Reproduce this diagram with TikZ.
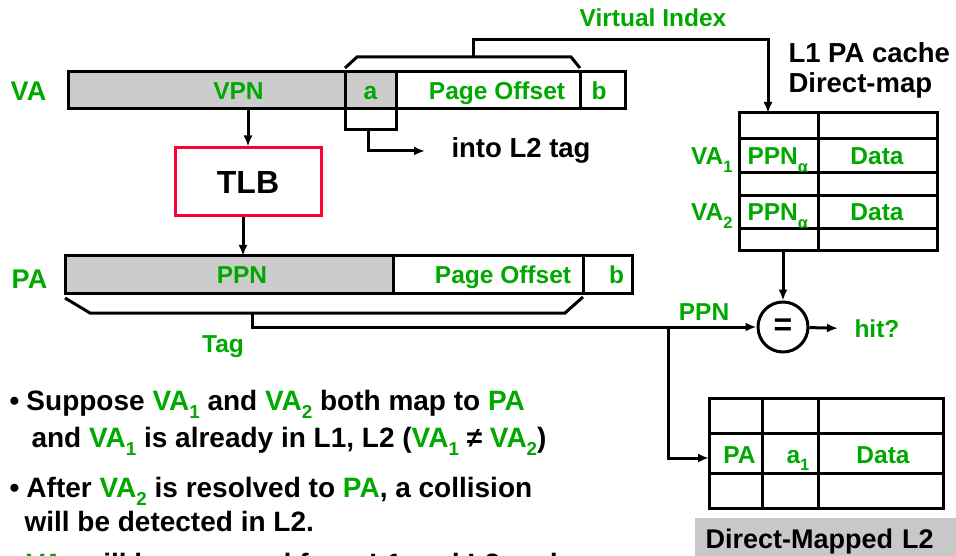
\documentclass[tikz,border=0pt]{standalone}
\usepackage{fontspec}
\setmainfont{Liberation Sans}
\usepackage{graphicx}
\usetikzlibrary{positioning,arrows.meta}

\definecolor{vgreen}{RGB}{0,168,0}
\definecolor{barfill}{RGB}{204,204,204}
\definecolor{tlbred}{RGB}{255,0,51}
\definecolor{capgray}{RGB}{200,200,200}
\newcommand{\lowidx}[1]{\raisebox{-0.3em}{\scalebox{0.67}{#1}}}
\newcommand{\grn}[1]{\textcolor{vgreen}{#1}}

\begin{document}
\begin{tikzpicture}[
    x=1pt, y=-1pt,
    >={Latex[length=11pt,width=9pt]},
    line width=3pt,
    field/.style={draw, outer sep=0pt, inner sep=0pt, minimum height=37pt},
    lbl/.style={text=vgreen, font=\fontsize{24.5}{29}\selectfont\bfseries, text height=17.5pt, text depth=0pt, inner sep=0pt},
    cell/.style={text=vgreen, font=\fontsize{24.5}{29}\selectfont\bfseries, inner sep=0pt, anchor=base},
    note/.style={font=\fontsize{27.5}{33}\selectfont\bfseries, inner sep=0pt, anchor=base west},
    point/.style={note, font=\fontsize{28}{33}\selectfont\bfseries},
    tbl/.style={draw, outer sep=0pt, inner sep=0pt, anchor=north west}
  ]
  \clip (0,0) rectangle (956,556);

  % virtual address
  \node[field, fill=barfill, minimum width=277pt, anchor=north west] (vpn) at (68,72) {};
  \node[field, fill=barfill, minimum width=51pt, right=0pt of vpn] (ava) {};
  \node[field, minimum width=184pt, right=0pt of ava] (pova) {};
  \node[field, minimum width=45pt, right=0pt of pova] (bva) {};
  \node[lbl] (vpntx) at ([xshift=32pt]vpn.center) {VPN};
  \node[lbl] (atx) at (ava.center) {a};
  \node[lbl] (povatx) at ([xshift=9pt]pova.center) {Page Offset};
  \node[lbl] (bvatx) at ([xshift=-3.5pt]bva.center) {b};
  \node[lbl, font=\fontsize{27}{32}\selectfont\bfseries, text height=19.3pt] (valbl) at (28.5,91) {VA};

  % physical address
  \node[field, fill=barfill, minimum width=328pt, anchor=north west] (ppn) at (65,256) {};
  \node[field, minimum width=190pt, right=0pt of ppn] (popa) {};
  \node[field, minimum width=49pt, right=0pt of popa] (bpa) {};
  \node[lbl] (ppntx) at ([xshift=13pt]ppn.center) {PPN};
  \node[lbl] (popatx) at ([xshift=15pt]popa.center) {Page Offset};
  \node[lbl] (bpatx) at ([xshift=9pt]bpa.center) {b};
  \node[lbl, font=\fontsize{27}{32}\selectfont\bfseries, text height=19.3pt] (palbl) at (29.5,279) {PA};

  \node[draw=tlbred, minimum width=146pt, minimum height=68pt, font=\fontsize{32}{38}\selectfont\bfseries] (tlb) at (248,182) {TLB};
  \draw[->] (vpn.south -| tlb.north) -- (tlb.north);
  \draw[->] ([xshift=-5pt]tlb.south) -- ([xshift=-5pt]tlb.south |- ppn.north);

  % L1 cache
  \node[tbl, minimum width=198pt, minimum height=138pt] (l1) at (739,113) {};
  \draw ([xshift=79pt]l1.north west) -- ([xshift=79pt]l1.south west);
  \foreach \r in {26,60,83,116}
    \draw ([yshift=-\r pt]l1.north west) -- ([yshift=-\r pt]l1.north east);
  \node[cell, anchor=base east] (va1) at (734,165) {VA\lowidx{1}};
  \node[cell, anchor=base west] (ppn1) at (746,165) {PPN\lowidx{α}};
  \node[cell] (data1) at (877,165) {Data};
  \node[cell, anchor=base east] (va2) at (734,221) {VA\lowidx{2}};
  \node[cell, anchor=base west] (ppn2) at (746,221) {PPN\lowidx{α}};
  \node[cell] (data2) at (877,221) {Data};
  \node[note] (l1lbl) at (787,63) {L1 PA cache};
  \node[note] (dmlbl) at (787,93) {Direct-map};

  % virtual index
  \draw ([yshift=4pt]ava.north west) -- ++(12,-11) -- ([shift={(-9pt,15pt)}]pova.north east) -- ([yshift=4pt]pova.north east);
  \coordinate (vidx) at (473,57);
  \draw[->] (vidx) -- ++(0,-17) -| ([xshift=29pt]l1.north west);
  \node[cell] (vilbl) at (653,27) {Virtual Index};

  % a bits into L2 tag
  \draw (ava.south west) -- ++(0,21) -| (ava.south east);
  \node[note] (l2tag) at (450,158) {into L2 tag};
  \draw[->] ([xshift=23pt,yshift=-21pt]ava.south west) |- ([xshift=-25pt]l2tag.west);

  % compare
  \node[draw, circle, minimum size=50pt, inner sep=0pt, font=\fontsize{32}{38}\selectfont\bfseries] (eq) at (783,327) {=};
  \draw[->] (l1.south -| eq) -- (eq);
  \node[cell, anchor=base west] (hit) at (853,337) {hit?};
  \draw[->] (eq) -- ([xshift=-15pt]hit.west);

  % tag
  \draw ([yshift=-5pt]ppn.south west) -- ++(25,15) -- ([shift={(-18pt,-20pt)}]popa.south east) -- ([yshift=-4pt]popa.south east);
  \coordinate (tagmid) at (252,313);
  \draw[->] (tagmid) |- (eq);
  \node[cell] (taglbl) at (223,352) {Tag};
  \node[cell] (ppnlbl) at (704,320) {PPN};

  % L2 cache
  \node[tbl, minimum width=234pt, minimum height=110pt] (l2) at (709,398) {};
  \foreach \c in {53,109}
    \draw ([xshift=\c pt]l2.north west) -- ([xshift=\c pt]l2.south west);
  \foreach \r in {35,75}
    \draw ([yshift=-\r pt]l2.north west) -- ([yshift=-\r pt]l2.north east);
  \node[cell] (l2pa) at (739.5,463) {PA};
  \node[cell, anchor=base west] (l2a) at (785,463) {a\lowidx{1}};
  \node[cell] (l2data) at (883,463) {Data};
  \coordinate (brk) at (668,327);
  \draw[->] (brk) |- ([yshift=-60pt]l2.north west);
  \node[fill=capgray, anchor=north west, font=\fontsize{27}{32}\selectfont\bfseries, text width=241pt, inner xsep=11pt, inner ysep=12pt, text height=19pt, text depth=0pt] (dml2) at (693,516) {Direct-Mapped L2};

  % notes
  \node[point] (pt1) at (8,410) {\makebox[17pt][l]{•}Suppose \grn{VA\lowidx{1}} and \grn{VA\lowidx{2}} both map to \grn{PA}};
  \node[point] (pt1b) at (30,447) {and \grn{VA\lowidx{1}} is already in L1, L2 (\grn{VA\lowidx{1}} ≠ \grn{VA\lowidx{2}})};
  \node[point] (pt2) at (8,497.5) {\makebox[17pt][l]{•}After \grn{VA\lowidx{2}} is resolved to \grn{PA}, a collision};
  \node[point] (pt2b) at (23,531) {will be detected in L2.};
  \node[point] (pt3) at (25,573) {\grn{VA\lowidx{1}} will be removed from L1 and L2 and};
\end{tikzpicture}
\end{document}
